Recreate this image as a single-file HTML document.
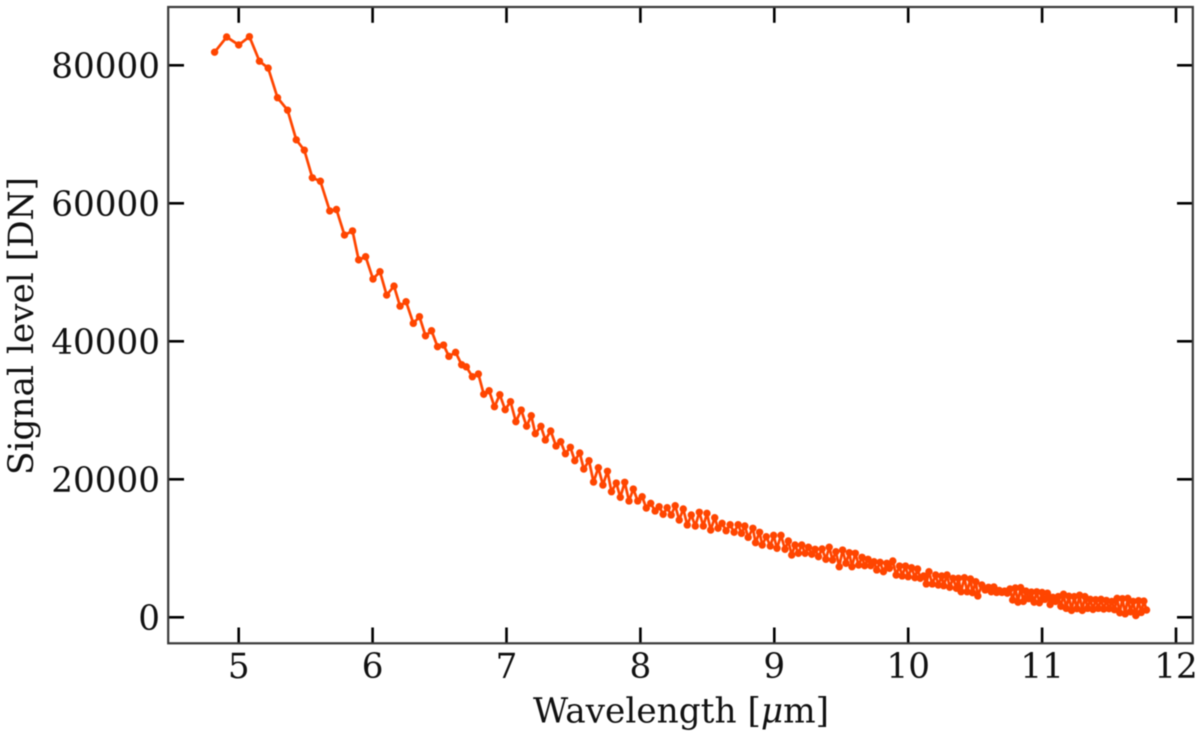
<!DOCTYPE html>
<html lang="en">
<head>
<meta charset="utf-8">
<title>Signal level vs wavelength</title>
<style>
  html, body { margin: 0; padding: 0; background: #ffffff; }
  body { width: 1200px; height: 736px; overflow: hidden; }
  svg { display: block; filter: blur(0.45px); }
  text { font-family: "DejaVu Serif", "Liberation Serif", serif; fill: #111111; }
  .tick-label { font-size: 34.2px; }
  .axis-title { font-size: 34.3px; }
</style>
</head>
<body>
<svg id="chart" xmlns="http://www.w3.org/2000/svg" width="1200" height="736" viewBox="0 0 1200 736">
  <rect x="0" y="0" width="1200" height="736" fill="#ffffff"></rect>
  <g id="series"></g>
  <g id="ticks"></g>
  <rect x="168.2" y="7" width="1024.6" height="636.3" fill="none" stroke="#3a3a3a" stroke-width="2.2"></rect>
  <g id="labels"></g>
  <text class="axis-title" x="681" y="722.5" text-anchor="middle">Wavelength [<tspan font-style="italic">μ</tspan>m]</text>
  <text class="axis-title" text-anchor="middle" transform="translate(33 326) rotate(-90)">Signal level [DN]</text>
</svg>
<script>
const xTickValues = [5, 6, 7, 8, 9, 10, 11, 12];
const yTickValues = [0, 20000, 40000, 60000, 80000];

const wavelengths = [
  4.82, 4.91, 5.00, 5.08, 5.155, 5.22, 5.29, 5.365, 5.43, 5.49, 5.55, 5.61, 5.68, 5.73,
  5.79, 5.85, 5.896, 5.948, 6.003, 6.055, 6.105, 6.16, 6.205, 6.25, 6.304, 6.35, 6.395, 6.44,
  6.485, 6.53, 6.57, 6.62, 6.665, 6.70, 6.745, 6.79, 6.83, 6.87, 6.91, 6.95, 6.99, 7.03,
  7.07, 7.11, 7.15, 7.185, 7.215, 7.257, 7.29, 7.33, 7.37, 7.405, 7.44, 7.477, 7.51, 7.547,
  7.577, 7.616, 7.65, 7.686, 7.72, 7.754, 7.784, 7.82, 7.85, 7.883, 7.915, 7.947, 7.98, 8.013,
  8.044, 8.077, 8.11, 8.14, 8.17, 8.20, 8.23, 8.26, 8.29, 8.32, 8.35, 8.38, 8.41, 8.44,
  8.47, 8.497, 8.525, 8.555, 8.58, 8.61, 8.64, 8.67, 8.70, 8.73, 8.755, 8.78, 8.805, 8.84,
  8.86, 8.89, 8.91, 8.94, 8.97, 8.995, 9.02, 9.05, 9.08, 9.105, 9.13, 9.155, 9.18, 9.205,
  9.23, 9.255, 9.28, 9.305, 9.33, 9.357, 9.385, 9.41, 9.435, 9.46, 9.485, 9.51, 9.535, 9.56,
  9.58, 9.605, 9.63, 9.655, 9.675, 9.70, 9.72, 9.745, 9.765, 9.79, 9.815, 9.84, 9.86, 9.885,
  9.91, 9.935, 9.955, 9.98, 10.00, 10.025, 10.05, 10.07, 10.09, 10.115, 10.135, 10.155, 10.18, 10.205,
  10.225, 10.25, 10.265, 10.29, 10.31, 10.335, 10.36, 10.375, 10.395, 10.42, 10.44, 10.465, 10.48, 10.505,
  10.52, 10.55, 10.575, 10.60, 10.62, 10.64, 10.66, 10.68, 10.70, 10.72, 10.74, 10.76, 10.78, 10.80,
  10.82, 10.84, 10.86, 10.88, 10.90, 10.92, 10.94, 10.96, 10.98, 11.00, 11.02, 11.04, 11.06, 11.08,
  11.10, 11.12, 11.14, 11.16, 11.18, 11.20, 11.22, 11.24, 11.26, 11.28, 11.30, 11.32, 11.34, 11.36,
  11.38, 11.40, 11.42, 11.44, 11.46, 11.48, 11.50, 11.52, 11.54, 11.56, 11.58, 11.60, 11.62, 11.64,
  11.66, 11.68, 11.70, 11.72, 11.74, 11.76, 11.78
];

const signalLevels = [
  81900, 84100, 82950, 84150, 80600, 79600, 75300, 73500, 69200, 67700, 63700, 63200, 58900, 59100,
  55400, 56000, 51800, 52260, 49030, 50090, 46700, 48000, 45100, 45740, 42600, 43570, 40800, 41530,
  39220, 39460, 37820, 38400, 36600, 36300, 34870, 35260, 32320, 32840, 30520, 32260, 30090, 31250,
  28350, 30040, 27700, 29220, 26610, 27680, 25700, 27000, 24830, 25450, 23710, 24640, 22700, 23810,
  21490, 22700, 19610, 21680, 19170, 21160, 18200, 19460, 17390, 19570, 16860, 18590, 16860, 17480,
  15840, 16520, 15410, 16030, 14930, 15880, 14830, 16170, 14100, 15700, 13380, 14830, 13230, 15220,
  13230, 15070, 12650, 14430, 12900, 13620, 12550, 13420, 12320, 13420, 12170, 13230, 11590, 12900,
  10810, 12320, 10480, 11680, 10330, 11880, 10000, 11880, 9860, 11060, 9030, 10480, 9280, 10480,
  9280, 10150, 9130, 9860, 8790, 9900, 8410, 10150, 8300, 9510, 7330, 9750, 7830, 9360,
  7330, 9280, 7580, 8700, 7480, 8410, 7480, 8060, 6860, 7970, 6610, 7830, 7100, 8160,
  6130, 7430, 5990, 7430, 5880, 7190, 5740, 7000, 5650, 5990, 4830, 6610, 4830, 6130,
  4680, 5990, 4580, 6130, 4350, 5650, 4200, 5650, 3710, 5740, 3710, 5550, 3570, 5160,
  3090, 4680, 3960, 4350, 3700, 4400, 3600, 3900, 3600, 3800, 3500, 4100, 2500, 4250,
  2200, 4300, 2300, 3800, 2700, 3650, 2200, 3700, 2100, 3600, 2600, 3500, 1850, 2900,
  2300, 3000, 1600, 3350, 1300, 3050, 1000, 3000, 1250, 3200, 1000, 3000, 1300, 2600,
  1150, 2550, 1300, 2600, 1200, 2450, 1250, 2300, 1100, 2750, 650, 2700, 500, 2750,
  800, 2300, 250, 2400, 700, 2350, 1060
];

const SVG_NS = 'http://www.w3.org/2000/svg';
function xScale(v) { return 238.7 + (v - 5) * 133.9; }
function yScale(v) { return 617.3 - v * 0.0069; }

const seriesGroup = document.getElementById('series');
const tickGroup = document.getElementById('ticks');
const labelGroup = document.getElementById('labels');

const pointString = wavelengths.map(function (w, i) {
  return xScale(w).toFixed(2) + ',' + yScale(signalLevels[i]).toFixed(2);
}).join(' ');

const line = document.createElementNS(SVG_NS, 'polyline');


line.setAttribute('points', pointString);
line.setAttribute('fill', 'none');
line.setAttribute('stroke', '#ff4500');
line.setAttribute('stroke-width', '2.7');
line.setAttribute('stroke-linejoin', 'round');
seriesGroup.appendChild(line);

wavelengths.forEach(function (w, i) {
  const dot = document.createElementNS(SVG_NS, 'circle');
  
  
  dot.setAttribute('cx', xScale(w).toFixed(2));
  dot.setAttribute('cy', yScale(signalLevels[i]).toFixed(2));
  dot.setAttribute('r', '3.7');
  dot.setAttribute('fill', '#ff4500');
  seriesGroup.appendChild(dot);
});

function addTick(x1, y1, x2, y2) {
  const tick = document.createElementNS(SVG_NS, 'line');
  
  
  tick.setAttribute('x1', x1);
  tick.setAttribute('y1', y1);
  tick.setAttribute('x2', x2);
  tick.setAttribute('y2', y2);
  tick.setAttribute('stroke', '#000000');
  tick.setAttribute('stroke-width', '2.6');
  tickGroup.appendChild(tick);
}

xTickValues.forEach(function (v) {
  const x = xScale(v);
  addTick(x, 643.3, x, 627.5);
  addTick(x, 7, x, 22.8);
  const label = document.createElementNS(SVG_NS, 'text');
  
  
  label.setAttribute('class', 'tick-label');
  label.setAttribute('x', x);
  label.setAttribute('y', 678);
  label.setAttribute('text-anchor', 'middle');
  label.textContent = String(v);
  labelGroup.appendChild(label);
});

yTickValues.forEach(function (v) {
  const y = yScale(v);
  addTick(168.2, y, 184, y);
  addTick(1192.8, y, 1177, y);
  const label = document.createElementNS(SVG_NS, 'text');
  
  
  label.setAttribute('class', 'tick-label');
  label.setAttribute('x', 160);
  label.setAttribute('y', y + 12.5);
  label.setAttribute('text-anchor', 'end');
  label.textContent = String(v);
  labelGroup.appendChild(label);
});
</script>
</body>
</html>
